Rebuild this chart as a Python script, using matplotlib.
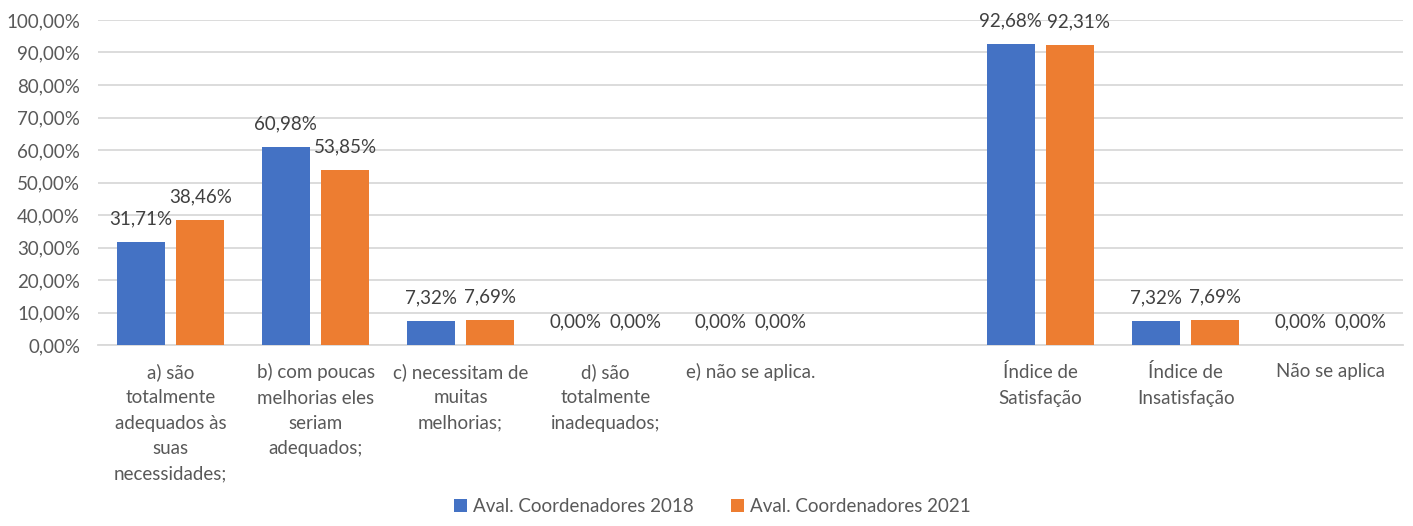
import numpy as np
import matplotlib
matplotlib.use("Agg")
import matplotlib.pyplot as plt
from matplotlib.ticker import FuncFormatter

categories = [
    "a) são\ntotalmente\nadequados às\nsuas\nnecessidades;",
    "b) com poucas\nmelhorias eles\nseriam\nadequados;",
    "c) necessitam de\nmuitas\nmelhorias;",
    "d) são\ntotalmente\ninadequados;",
    "e) não se aplica.",
    "",
    "Índice de\nSatisfação",
    "Índice de\nInsatisfação",
    "Não se aplica",
]
series_names = ["Aval. Coordenadores 2018", "Aval. Coordenadores 2021"]
values_2018 = [31.71, 60.98, 7.32, 0.00, 0.00, np.nan, 92.68, 7.32, 0.00]
values_2021 = [38.46, 53.85, 7.69, 0.00, 0.00, np.nan, 92.31, 7.69, 0.00]
yticks = [0, 10, 20, 30, 40, 50, 60, 70, 80, 90, 100]

plt.rcParams['font.family'] = ['Lato', 'DejaVu Sans']
txt = '#595959'
colors = ['#4472C4', '#ED7D31']

fig = plt.figure(figsize=(14.13, 5.26), dpi=100)
ax = fig.add_axes([0.0694, 0.344, 0.9236, 0.618])

x = np.arange(len(categories))
w = 0.33
off = 0.205
for k, (vals, name, c, dx) in enumerate([(values_2018, series_names[0], colors[0], -off),
                                          (values_2021, series_names[1], colors[1], off)]):
    ax.bar(x + dx, vals, width=w, color=c, label=name, zorder=3)
    for xi, v in zip(x, vals):
        if np.isnan(v):
            continue
        # nudge the second label right when both labels of a pair sit high and close
        shift = 6 if (k == 1 and v > 90) else 0
        ax.annotate(f"{v:.2f}%".replace('.', ','), (xi + dx, v),
                    xytext=(shift, 16.5), textcoords='offset points',
                    ha='center', va='center', fontsize=13.5, color='#404040')

ax.set_xlim(-0.5, len(categories) - 0.5)
ax.set_ylim(0, 100)
ax.set_yticks(yticks)
ax.yaxis.set_major_formatter(FuncFormatter(lambda v, p: f"{v:.2f}%".replace('.', ',')))
ax.set_xticks(x)
ax.set_xticklabels(categories, linespacing=1.6)
ax.tick_params(axis='both', length=0, labelsize=13.5, colors=txt)
ax.tick_params(axis='y', pad=13)
ax.tick_params(axis='x', pad=13)
ax.grid(axis='y', color='#d9d9d9', linewidth=1.3, zorder=0)
for s in ['top', 'right', 'left']:
    ax.spines[s].set_visible(False)
ax.spines['bottom'].set_color('#d9d9d9')
ax.spines['bottom'].set_linewidth(1.3)

leg = fig.legend(loc='lower center', bbox_to_anchor=(0.504, -0.012), ncol=2, frameon=False,
                 fontsize=13.5, handlelength=0.7, handleheight=0.7, handletextpad=0.3,
                 columnspacing=2.0)
for t in leg.get_texts():
    t.set_color(txt)

fig.savefig("out.png", dpi=100)
